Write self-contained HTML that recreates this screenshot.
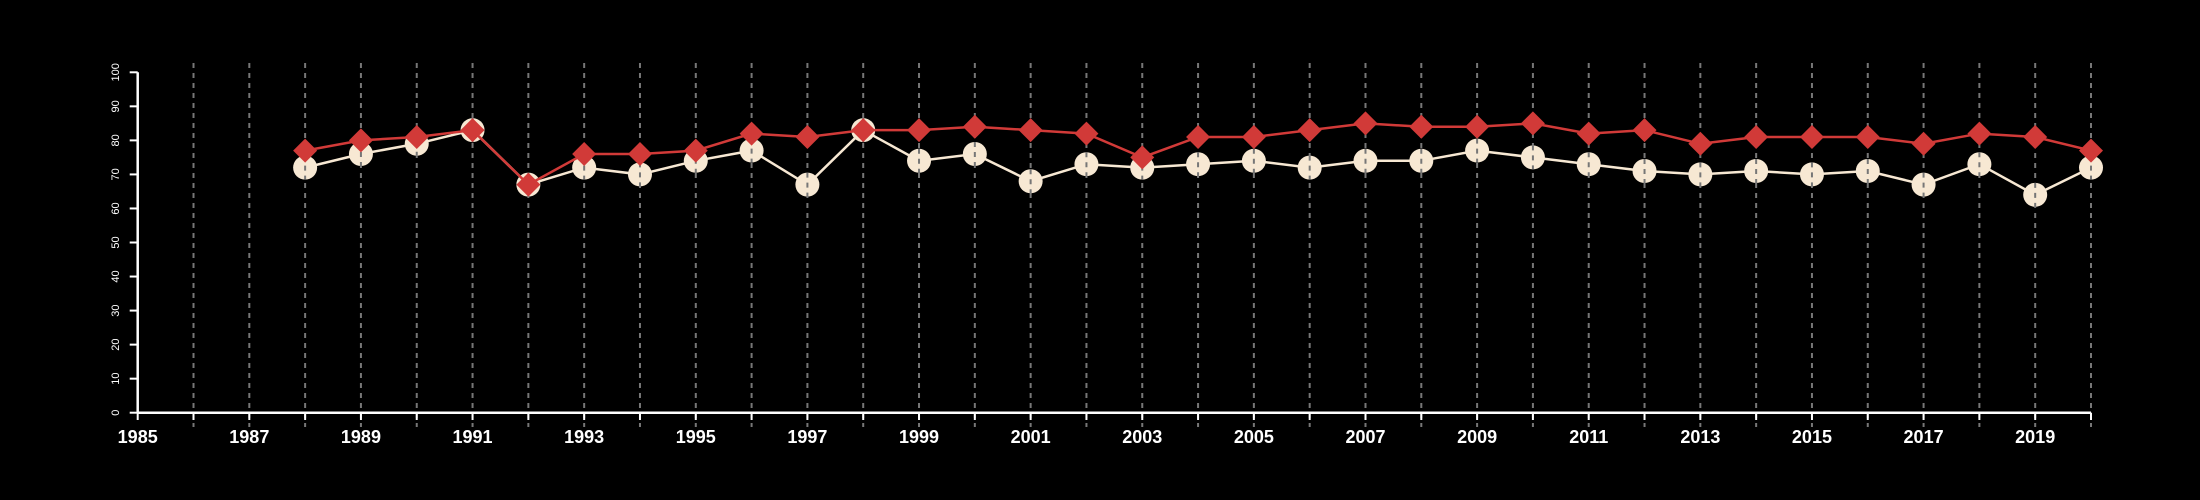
<!DOCTYPE html>
<html><head><meta charset="utf-8"><style>
html,body{margin:0;padding:0;background:#000;}
svg{display:block;font-family:"Liberation Sans",Arial,sans-serif;}
</style></head><body>
<svg id="chart" width="2200" height="500" viewBox="0 0 2200 500" xmlns="http://www.w3.org/2000/svg">
<rect width="2200" height="500" fill="#000"/>
<g id="grid"></g>
<g id="axes"></g>
<g id="series"></g>
</svg>
<script>
const years = [1988,1989,1990,1991,1992,1993,1994,1995,1996,1997,1998,1999,2000,2001,2002,2003,2004,2005,2006,2007,2008,2009,2010,2011,2012,2013,2014,2015,2016,2017,2018,2019,2020];
const whiteSeries = [72,76,79,83,67,72,70,74,77,67,83,74,76,68,73,72,73,74,72,74,74,77,75,73,71,70,71,70,71,67,73,64,72];
const redSeries = [77,80,81,83,67,76,76,77,82,81,83,83,84,83,82,75,81,81,83,85,84,84,85,82,83,79,81,81,81,79,82,81,77];
const yTicks = [0,10,20,30,40,50,60,70,80,90,100];
const xMin = 1985, xMax = 2020;

const NS = "http://www.w3.org/2000/svg";
const X0 = 137.7, X1 = 2091, Y0 = 412.7, Y1 = 72.3;
function xs(v){ return X0 + (v - xMin) / (xMax - xMin) * (X1 - X0); }
function ys(v){ return Y0 - v / 100 * (Y0 - Y1); }
function mk(tag, attrs, parent){ const e = document.createElementNS(NS, tag); for (const k in attrs) e.setAttribute(k, attrs[k]); parent.appendChild(e); return e; }

const grid = document.getElementById('grid');
const axes = document.getElementById('axes');
const series = document.getElementById('series');

for (let yr = xMin; yr <= xMax; yr++) {
  const x = xs(yr);
  if (yr > xMin) {
    const g = mk('line', {x1:x, x2:x, y1:63, y2:427, stroke:'#777', 'stroke-width':2, 'stroke-dasharray':'5,5'}, grid);
    
    
  }
  const t = mk('line', {x1:x, x2:x, y1:Y0, y2:420, stroke:'#fff', 'stroke-width':2}, axes);
  
  
  if ((yr - xMin) % 2 === 0) {
    const l = mk('text', {x:x, y:443, fill:'#fff', 'font-size':18, 'font-weight':'bold', 'text-anchor':'middle'}, axes);
    l.textContent = yr;
    
    
  }
}
const xa = mk('line', {x1:X0, x2:X1, y1:Y0, y2:Y0, stroke:'#fff', 'stroke-width':2.5}, axes);


const ya = mk('line', {x1:X0, x2:X0, y1:Y1, y2:Y0, stroke:'#fff', 'stroke-width':2.5}, axes);


yTicks.forEach(v => {
  const y = ys(v);
  const t = mk('line', {x1:X0 - 8, x2:X0, y1:y, y2:y, stroke:'#fff', 'stroke-width':2}, axes);
  
  
  const l = mk('text', {x:0, y:0, fill:'#fff', 'font-size':11, 'text-anchor':'middle', transform:'translate(119,' + y + ') rotate(-90)'}, axes);
  l.textContent = v;
  
  
});

function pts(arr){ return arr.map((v,i) => xs(years[i]) + ',' + ys(v)).join(' '); }
const wl = mk('polyline', {points:pts(whiteSeries), fill:'none', stroke:'#f7e8d3', 'stroke-width':2.5}, series);


whiteSeries.forEach((v,i) => {
  const c = mk('circle', {cx:xs(years[i]), cy:ys(v), r:12, fill:'#f7e8d3'}, series);
  
  
  const d = mk('line', {x1:xs(years[i]), x2:xs(years[i]), y1:ys(v)-12, y2:ys(v)+12, stroke:'#777', 'stroke-width':2, 'stroke-dasharray':'5,5'}, series);
  
  
});
const rl = mk('polyline', {points:pts(redSeries), fill:'none', stroke:'#d13a38', 'stroke-width':2.5}, series);


redSeries.forEach((v,i) => {
  const x = xs(years[i]), y = ys(v), s = 12;
  const p = mk('polygon', {points:(x)+','+(y-s)+' '+(x+s)+','+y+' '+x+','+(y+s)+' '+(x-s)+','+y, fill:'#d13a38'}, series);
  
  
});
</script>
</body></html>
